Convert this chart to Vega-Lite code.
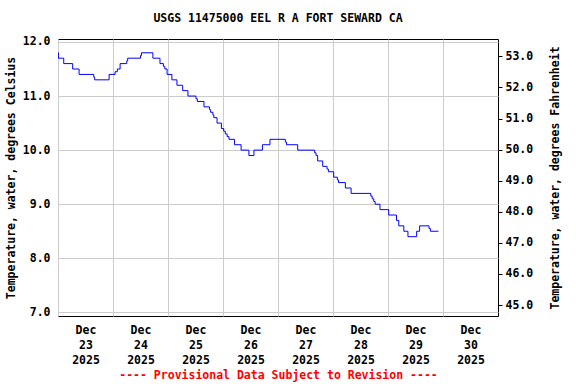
{
  "$schema": "https://vega.github.io/schema/vega-lite/v6.json",
  "width": 440,
  "height": 277,
  "autosize": "none",
  "padding": {"left": 58, "top": 39, "right": 78, "bottom": 68},
  "background": "white",
  "title": {"text": "USGS 11475000 EEL R A FORT SEWARD CA", "font": "DejaVu Sans Mono", "fontSize": 11.5, "fontWeight": "bold", "color": "black", "anchor": "middle", "offset": 11},
  "config": {
    "view": {"stroke": "black", "strokeWidth": 1},
    "axis": {"labelFont": "DejaVu Sans Mono", "labelFontSize": 11.5, "labelFontWeight": "bold", "labelColor": "black", "titleFont": "DejaVu Sans Mono", "titleFontSize": 11.5, "titleFontWeight": "bold", "titleColor": "black", "domain": false, "gridColor": "#cccccc", "gridWidth": 1, "gridOpacity": 1}
  },
  "layer": [
    {
      "data": {"values": [
        {"time": "2025-12-23T00:00", "temp": 11.8},
        {"time": "2025-12-23T00:12", "temp": 11.7},
        {"time": "2025-12-23T02:30", "temp": 11.6},
        {"time": "2025-12-23T06:24", "temp": 11.5},
        {"time": "2025-12-23T09:12", "temp": 11.4},
        {"time": "2025-12-23T15:36", "temp": 11.35},
        {"time": "2025-12-23T16:00", "temp": 11.3},
        {"time": "2025-12-23T22:18", "temp": 11.4},
        {"time": "2025-12-24T00:54", "temp": 11.45},
        {"time": "2025-12-24T01:54", "temp": 11.5},
        {"time": "2025-12-24T03:06", "temp": 11.6},
        {"time": "2025-12-24T06:00", "temp": 11.65},
        {"time": "2025-12-24T06:24", "temp": 11.7},
        {"time": "2025-12-24T12:00", "temp": 11.75},
        {"time": "2025-12-24T12:24", "temp": 11.8},
        {"time": "2025-12-24T17:24", "temp": 11.7},
        {"time": "2025-12-24T20:30", "temp": 11.6},
        {"time": "2025-12-24T22:00", "temp": 11.55},
        {"time": "2025-12-24T22:36", "temp": 11.5},
        {"time": "2025-12-24T23:36", "temp": 11.4},
        {"time": "2025-12-25T01:42", "temp": 11.3},
        {"time": "2025-12-25T03:54", "temp": 11.2},
        {"time": "2025-12-25T06:24", "temp": 11.1},
        {"time": "2025-12-25T08:42", "temp": 11.0},
        {"time": "2025-12-25T12:12", "temp": 10.95},
        {"time": "2025-12-25T12:48", "temp": 10.9},
        {"time": "2025-12-25T15:42", "temp": 10.8},
        {"time": "2025-12-25T18:06", "temp": 10.75},
        {"time": "2025-12-25T18:36", "temp": 10.7},
        {"time": "2025-12-25T19:36", "temp": 10.65},
        {"time": "2025-12-25T20:00", "temp": 10.6},
        {"time": "2025-12-25T21:24", "temp": 10.5},
        {"time": "2025-12-25T23:18", "temp": 10.4},
        {"time": "2025-12-26T00:18", "temp": 10.35},
        {"time": "2025-12-26T01:00", "temp": 10.3},
        {"time": "2025-12-26T01:48", "temp": 10.25},
        {"time": "2025-12-26T02:36", "temp": 10.2},
        {"time": "2025-12-26T05:00", "temp": 10.1},
        {"time": "2025-12-26T07:54", "temp": 10.0},
        {"time": "2025-12-26T11:18", "temp": 9.9},
        {"time": "2025-12-26T13:30", "temp": 10.0},
        {"time": "2025-12-26T17:12", "temp": 10.1},
        {"time": "2025-12-26T20:30", "temp": 10.2},
        {"time": "2025-12-27T03:12", "temp": 10.15},
        {"time": "2025-12-27T03:42", "temp": 10.1},
        {"time": "2025-12-27T08:36", "temp": 10.0},
        {"time": "2025-12-27T16:00", "temp": 9.95},
        {"time": "2025-12-27T16:36", "temp": 9.9},
        {"time": "2025-12-27T17:18", "temp": 9.8},
        {"time": "2025-12-27T19:30", "temp": 9.7},
        {"time": "2025-12-27T21:24", "temp": 9.65},
        {"time": "2025-12-27T22:00", "temp": 9.6},
        {"time": "2025-12-28T00:18", "temp": 9.5},
        {"time": "2025-12-28T01:54", "temp": 9.45},
        {"time": "2025-12-28T02:24", "temp": 9.4},
        {"time": "2025-12-28T05:24", "temp": 9.3},
        {"time": "2025-12-28T07:54", "temp": 9.2},
        {"time": "2025-12-28T16:30", "temp": 9.15},
        {"time": "2025-12-28T17:06", "temp": 9.1},
        {"time": "2025-12-28T17:48", "temp": 9.05},
        {"time": "2025-12-28T18:24", "temp": 9.0},
        {"time": "2025-12-28T20:30", "temp": 8.9},
        {"time": "2025-12-29T00:18", "temp": 8.8},
        {"time": "2025-12-29T03:42", "temp": 8.7},
        {"time": "2025-12-29T04:42", "temp": 8.6},
        {"time": "2025-12-29T06:54", "temp": 8.5},
        {"time": "2025-12-29T08:42", "temp": 8.4},
        {"time": "2025-12-29T12:30", "temp": 8.5},
        {"time": "2025-12-29T13:48", "temp": 8.6},
        {"time": "2025-12-29T17:54", "temp": 8.55},
        {"time": "2025-12-29T18:30", "temp": 8.5},
        {"time": "2025-12-29T22:00", "temp": 8.5}
      ]},
      "mark": {"type": "line", "interpolate": "step-after", "color": "#0000ff", "strokeWidth": 1, "clip": true},
      "encoding": {
        "x": {"field": "time", "type": "temporal",
          "scale": {"domain": [{"year": 2025, "month": 12, "date": 23}, {"year": 2025, "month": 12, "date": 31}]},
          "axis": {
            "values": [{"year": 2025, "month": 12, "date": 23}, {"year": 2025, "month": 12, "date": 24}, {"year": 2025, "month": 12, "date": 25}, {"year": 2025, "month": 12, "date": 26}, {"year": 2025, "month": 12, "date": 27}, {"year": 2025, "month": 12, "date": 28}, {"year": 2025, "month": 12, "date": 29}, {"year": 2025, "month": 12, "date": 30}],
            "labelExpr": "[timeFormat(datum.value, '%b'), timeFormat(datum.value, '%d'), timeFormat(datum.value, '%Y')]",
            "labelOffset": 27.5, "labelLineHeight": 15, "labelBaseline": "top", "labelPadding": 8, "labelAngle": 0,
            "ticks": false, "grid": true, "labelFlush": false, "labelOverlap": false,
            "title": "---- Provisional Data Subject to Revision ----", "titleColor": "#ff0000", "titlePadding": 4
          }
        },
        "y": {"field": "temp", "type": "quantitative",
          "scale": {"domain": [6.933, 12.055], "nice": false, "zero": false},
          "axis": {"orient": "left", "values": [7, 8, 9, 10, 11, 12], "format": ".1f", "ticks": false, "labelPadding": 8, "grid": true,
            "title": "Temperature, water, degrees Celsius", "titlePadding": 6}
        }
      }
    },
    {
      "data": {"values": [{"f": 45}, {"f": 53}]},
      "mark": {"type": "point", "opacity": 0},
      "encoding": {
        "y": {"field": "f", "type": "quantitative",
          "scale": {"domain": [44.647, 53.56], "nice": false, "zero": false},
          "axis": {"orient": "right", "values": [45, 46, 47, 48, 49, 50, 51, 52, 53], "format": ".1f", "grid": false, "ticks": true, "tickSize": 4, "tickColor": "black", "labelPadding": 3,
            "title": "Temperature, water, degrees Fahrenheit", "titleAngle": 270, "titlePadding": 28}
        }
      }
    }
  ],
  "resolve": {"scale": {"y": "independent"}}
}
